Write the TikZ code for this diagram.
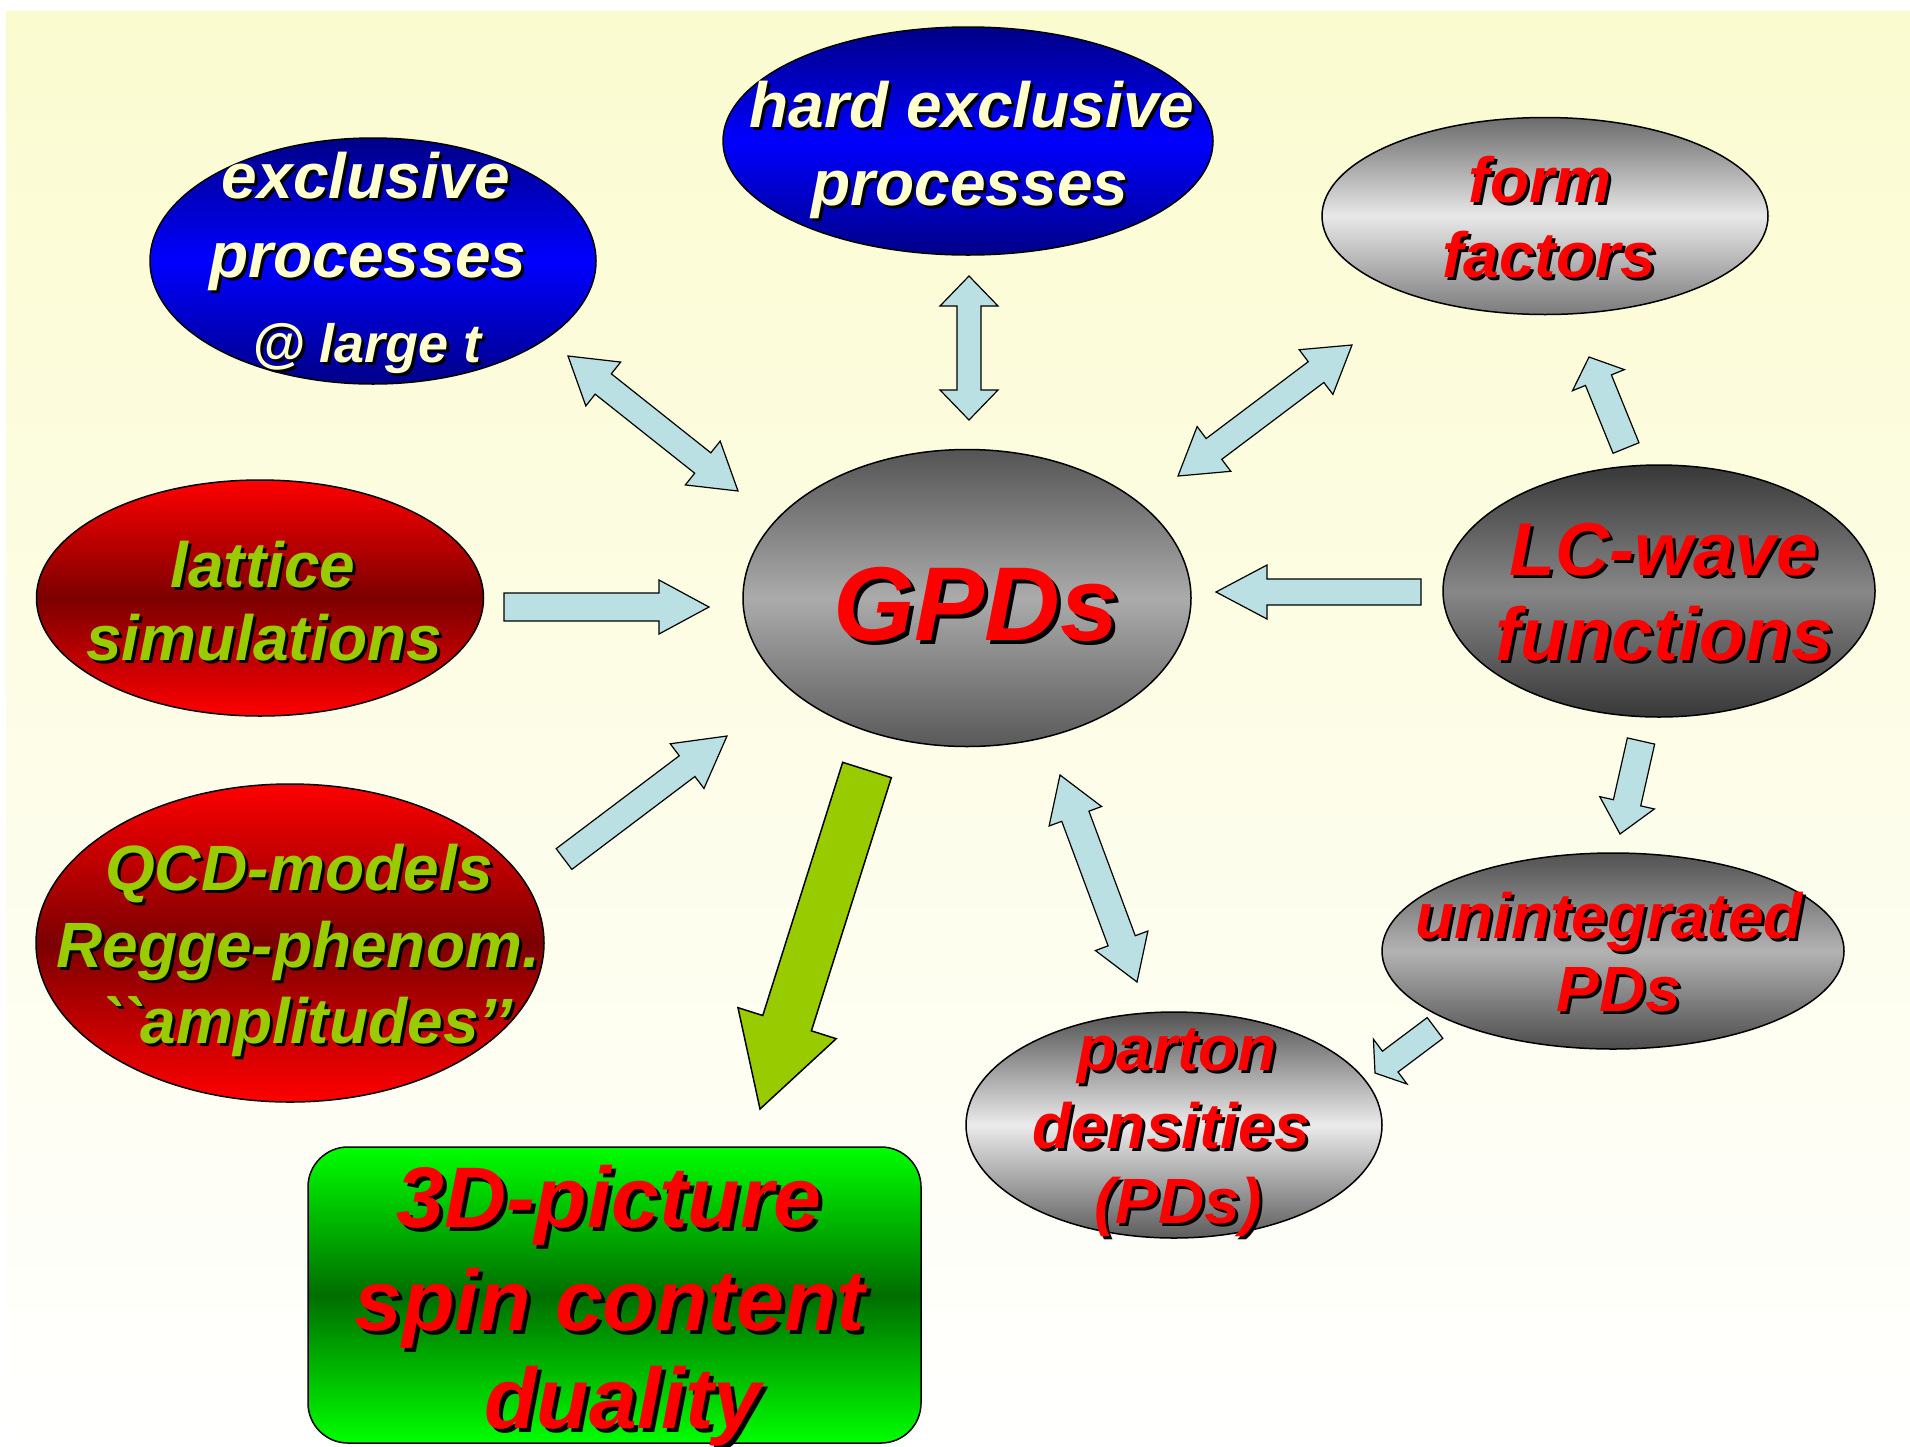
\documentclass[tikz,border=0pt]{standalone}
\usepackage{fontspec}
\setmainfont{Liberation Sans}[Ligatures=TeXOff]
\usetikzlibrary{shapes.geometric,calc}

\definecolor{bgtop}{RGB}{251,251,208}
\definecolor{cream}{RGB}{255,255,204}
\definecolor{arrblue}{RGB}{187,224,227}
\definecolor{lime}{RGB}{153,204,0}
\definecolor{dblue}{RGB}{0,0,136}
\definecolor{dred}{RGB}{124,0,0}
\definecolor{dgreen}{RGB}{0,110,0}
\definecolor{brgreen}{RGB}{0,255,0}

% single block arrow: tail, tip, half shaft, half head, head length, style
\newcommand{\sblock}[6]{%
  \coordinate (nk) at ($(#2)!#5!(#1)$);
  \draw[#6] ($(#1)!#3!90:(#2)$) -- ($(nk)!#3!90:(#2)$) -- ($(nk)!#4!90:(#2)$) -- (#2)
    -- ($(nk)!#4!-90:(#2)$) -- ($(nk)!#3!-90:(#2)$) -- ($(#1)!#3!-90:(#2)$) -- cycle;
}
% double block arrow: end a, end b, half shaft, half head, head length, style
\newcommand{\dblock}[6]{%
  \coordinate (nka) at ($(#1)!#5!(#2)$);
  \coordinate (nkb) at ($(#2)!#5!(#1)$);
  \draw[#6] (#1) -- ($(nka)!#4!90:(#2)$) -- ($(nka)!#3!90:(#2)$) -- ($(nkb)!#3!90:(#2)$)
    -- ($(nkb)!#4!90:(#2)$) -- (#2) -- ($(nkb)!#4!-90:(#2)$) -- ($(nkb)!#3!-90:(#2)$)
    -- ($(nka)!#3!-90:(#2)$) -- ($(nka)!#4!-90:(#2)$) -- cycle;
}
% text with black drop shadow: name, x, y, style, offset, text
\newcommand{\shtxt}[6]{%
  \node[#4, text=black, xshift=#5, yshift=-#5] at (#2,#3) {#6};
  \node[#4] (#1) at (#2,#3) {#6};
}

\begin{document}
\begin{tikzpicture}[x=1pt,y=-1pt,
  bub/.style={ellipse, draw=black, line width=1.5pt, inner sep=0pt},
  blueb/.style={bub, top color=dblue, bottom color=dblue, middle color=blue},
  redb/.style={bub, top color=red, bottom color=red, middle color=dred},
  base/.style={inner sep=0pt, anchor=base},
  f54/.style={base, font=\fontsize{54}{54}\selectfont\bfseries\itshape},
  f64/.style={base, font=\fontsize{64}{64}\selectfont\bfseries\itshape},
  f75/.style={base, font=\fontsize{75}{75}\selectfont\bfseries\itshape},
  f86/.style={base, font=\fontsize{86}{86}\selectfont\bfseries\itshape},
  f105/.style={base, font=\fontsize{105}{105}\selectfont\bfseries\itshape},
  blarr/.style={fill=arrblue, draw=black, line width=1.2pt, line join=miter},
  grarr/.style={fill=lime, draw=black, line width=1.5pt, line join=miter},
]
\useasboundingbox (0,0) rectangle (1910,1446);
\shade[top color=bgtop, bottom color=white] (6,11) rectangle (1910,1446);

% bubbles
\node[blueb, minimum width=446pt, minimum height=246pt] (ex) at (373,261) {};
\node[blueb, minimum width=490pt, minimum height=228pt] (hard) at (968,141) {};
\node[bub, top color=black!58, bottom color=black!52, middle color=black!9,
      minimum width=446pt, minimum height=197pt] (form) at (1545,216) {};
\node[bub, top color=black!67, bottom color=black!65, middle color=black!33,
      minimum width=448pt, minimum height=297pt] (gpd) at (967,598) {};
\node[bub, top color=black!78, bottom color=black!78, middle color=black!47,
      minimum width=432pt, minimum height=252pt] (lc) at (1659,591) {};
\node[redb, minimum width=447pt, minimum height=236pt] (lat) at (260,598) {};
\node[redb, minimum width=508pt, minimum height=318pt] (qcd) at (290,943) {};
\node[bub, top color=black!68, bottom color=black!70, middle color=black!30,
      minimum width=462pt, minimum height=196pt] (unint) at (1613,951) {};
\node[bub, top color=black!68, bottom color=black!64, middle color=black!8,
      minimum width=416pt, minimum height=226pt] (parton) at (1174,1125) {};
\node[draw=black, line width=1.5pt, rounded corners=40pt, inner sep=0pt,
      top color=brgreen, bottom color=brgreen, middle color=dgreen,
      minimum width=613pt, minimum height=296pt] (pic) at (614.5,1295) {};

% arrow end points
\coordinate (a1s) at (568,356);  \coordinate (a1e) at (738,491);
\coordinate (a2s) at (969,276);  \coordinate (a2e) at (969,420);
\coordinate (a3s) at (1352,345); \coordinate (a3e) at (1178,476);
\coordinate (a4s) at (504,607);  \coordinate (a4e) at (709,607);
\coordinate (a5s) at (1421,592); \coordinate (a5e) at (1216,592);
\coordinate (a6s) at (564,859);  \coordinate (a6e) at (727,736);
\coordinate (a7s) at (1626,448); \coordinate (a7e) at (1589,357);
\coordinate (a8s) at (1641,741); \coordinate (a8e) at (1620,834);
\coordinate (a9s) at (1060,775); \coordinate (a9e) at (1137,982);
\coordinate (a10s) at (1435,1028); \coordinate (a10e) at (1375,1073);
\coordinate (a11s) at (867,770); \coordinate (a11e) at (760,1109);

\dblock{a1s}{a1e}{13pt}{28pt}{45pt}{blarr}
\dblock{a2s}{a2e}{12pt}{29pt}{30pt}{blarr}
\dblock{a3s}{a3e}{13pt}{28pt}{45pt}{blarr}
\sblock{a4s}{a4e}{14pt}{27pt}{50pt}{blarr}
\sblock{a5s}{a5e}{13pt}{27pt}{51pt}{blarr}
\sblock{a6s}{a6e}{13pt}{28pt}{50pt}{blarr}
\sblock{a7s}{a7e}{14pt}{28pt}{25pt}{blarr}
\sblock{a8s}{a8e}{14pt}{28pt}{32pt}{blarr}
\dblock{a9s}{a9e}{14.5pt}{28pt}{44pt}{blarr}
\sblock{a10s}{a10e}{13pt}{28pt}{19pt}{blarr}
\sblock{a11s}{a11e}{25.5pt}{51.5pt}{90pt}{grarr}

% texts
\shtxt{ex1}{366}{198}{f64,text=cream}{3pt}{exclusive}
\shtxt{ex2}{368}{277}{f64,text=cream}{3pt}{processes}
\shtxt{ex3}{367}{362}{f54,text=cream}{3pt}{@ large t}
\shtxt{hd1}{972}{127}{f64,text=cream}{3pt}{hard exclusive}
\shtxt{hd2}{970}{205}{f64,text=cream}{3pt}{processes}
\shtxt{ff1}{1540}{202}{f64,text=red}{3pt}{form}
\shtxt{ff2}{1549}{277}{f64,text=red}{3pt}{factors}
\shtxt{gp1}{976}{640}{f105,text=red}{4pt}{GPDs}
\shtxt{lc1}{1664}{575}{f75,text=red}{3pt}{LC-wave}
\shtxt{lc2}{1664}{660}{f75,text=red}{3pt}{functions}
\shtxt{la1}{263}{587}{f64,text=lime}{3pt}{lattice}
\shtxt{la2}{264}{660}{f64,text=lime}{3pt}{simulations}
\shtxt{qc1}{299}{890}{f64,text=lime}{3pt}{QCD-models}
\shtxt{qc2}{298}{967}{f64,text=lime}{3pt}{Regge-phenom.}
\shtxt{qc3}{305}{1043}{f64,text=lime}{3pt}{``amplitudes’’}
\shtxt{up1}{1609}{938}{f64,text=red}{3pt}{unintegrated}
\shtxt{up2}{1619}{1011}{f64,text=red}{3pt}{PDs}
\shtxt{pd1}{1177}{1070}{f64,text=red}{3pt}{parton}
\shtxt{pd2}{1171}{1148}{f64,text=red}{3pt}{densities}
\shtxt{pd3}{1178}{1223}{f64,text=red}{3pt}{(PDs)}
\shtxt{pc1}{609}{1227}{f86,text=red}{4pt}{3D-picture}
\shtxt{pc2}{610}{1330}{f86,text=red}{4pt}{spin content}
\shtxt{pc3}{623}{1428}{f86,text=red}{4pt}{duality}
\end{tikzpicture}
\end{document}
